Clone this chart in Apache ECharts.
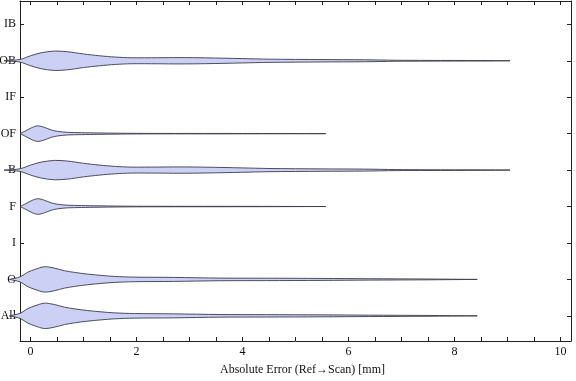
<!DOCTYPE html>
<html>
<head>
<meta charset="utf-8">
<script src="https://cdn.jsdelivr.net/npm/echarts@6/dist/echarts.min.js"></script>
<style>
html,body{margin:0;padding:0;background:#fff;}
#chart{width:576px;height:381px;}
</style>
</head>
<body>
<div id="chart"></div>
<script>
// Categories, bottom to top (position 1..9 on the y axis)
const categories = ['All', 'O', 'I', 'F', 'B', 'OF', 'IF', 'OB', 'IB'];
const categoryPositions = [1, 2, 3, 4, 5, 6, 7, 8, 9];

// X axis ticks and labels
const xTickValues = [0, 0.5, 1, 1.5, 2, 2.5, 3, 3.5, 4, 4.5, 5, 5.5, 6, 6.5, 7, 7.5, 8, 8.5, 9, 9.5, 10];
const xLabelValues = [0, 2, 4, 6, 8, 10];
const xAxisTitle = 'Absolute Error (Ref\u2192Scan) [mm]';

// Violin profiles: x positions (mm) and half-widths (in category units)
const allX = [-0.4, -0.2, -0.05, 0.08, 0.26, 0.45, 0.64, 0.83, 1.08, 1.33, 1.58, 1.96, 2.7, 3.57, 4.45, 5.5, 6.4, 7.5, 8.43];
const allW = [0, 0.069, 0.2, 0.274, 0.348, 0.31, 0.239, 0.192, 0.145, 0.11, 0.082, 0.063, 0.055, 0.036, 0.033, 0.027, 0.019, 0.011, 0];

const oX = [-0.4, -0.2, -0.05, 0.08, 0.26, 0.45, 0.64, 0.83, 1.08, 1.33, 1.58, 1.96, 2.7, 3.57, 4.45, 5.5, 6.4, 7.5, 8.43];
const oW = [0, 0.069, 0.2, 0.274, 0.348, 0.31, 0.239, 0.192, 0.145, 0.11, 0.082, 0.063, 0.055, 0.036, 0.033, 0.027, 0.019, 0.011, 0];

const fX = [-0.2, -0.11, 0.01, 0.13, 0.26, 0.39, 0.51, 0.7, 0.96, 1.27, 2.0, 4.0, 5.57];
const fW = [0, 0.063, 0.156, 0.214, 0.173, 0.101, 0.063, 0.036, 0.027, 0.019, 0.008, 0.005, 0];

const bX = [-0.5, -0.2, 0, 0.2, 0.45, 0.7, 1.0, 1.3, 1.6, 1.9, 2.4, 2.8, 3.3, 4.0, 4.5, 5.5, 6.3, 6.9, 7.5, 8.5, 9.05];
const bW = [0, 0.036, 0.137, 0.219, 0.266, 0.247, 0.186, 0.137, 0.101, 0.082, 0.083, 0.087, 0.08, 0.06, 0.044, 0.033, 0.027, 0.014, 0.01, 0.007, 0];

const ofX = [-0.2, -0.11, 0.01, 0.13, 0.26, 0.39, 0.51, 0.7, 0.96, 1.27, 2.0, 4.0, 5.57];
const ofW = [0, 0.063, 0.156, 0.214, 0.173, 0.101, 0.063, 0.036, 0.027, 0.019, 0.008, 0.005, 0];

const obX = [-0.5, -0.2, 0, 0.2, 0.45, 0.7, 1.0, 1.3, 1.6, 1.9, 2.4, 2.8, 3.3, 4.0, 4.5, 5.5, 6.3, 6.9, 7.5, 8.5, 9.05];
const obW = [0, 0.036, 0.137, 0.219, 0.266, 0.247, 0.186, 0.137, 0.101, 0.082, 0.083, 0.087, 0.08, 0.06, 0.044, 0.033, 0.027, 0.014, 0.01, 0.007, 0];

// Which category each violin belongs to
const violins = [
  { cat: 'All', x: allX, w: allW },
  { cat: 'O', x: oX, w: oW },
  { cat: 'F', x: fX, w: fW },
  { cat: 'B', x: bX, w: bW },
  { cat: 'OF', x: ofX, w: ofW },
  { cat: 'OB', x: obX, w: obW }
];

const FONT = '"Liberation Serif", "DejaVu Serif", serif';
const chart = echarts.init(document.getElementById('chart'), null, { renderer: 'canvas' });

const seriesData = violins.map((v, i) => [0, categoryPositions[categories.indexOf(v.cat)], i]);

const option = {
  animation: false,
  backgroundColor: '#fff',
  grid: { left: 20, right: 5, top: 1, bottom: 40, containLabel: false, outerBoundsMode: 'none' },
  xAxis: [
    {
      type: 'value', min: -0.2, max: 10.2, position: 'bottom',
      axisLine: { show: true, onZero: false, lineStyle: { color: '#222', width: 1 } },
      axisTick: { show: true, inside: true, length: 4, customValues: xTickValues, lineStyle: { color: '#222' } },
      axisLabel: { show: true, customValues: xLabelValues, margin: 5, color: '#111', fontFamily: FONT, fontSize: 12 },
      splitLine: { show: false },
      name: xAxisTitle, nameLocation: 'middle', nameGap: 23,
      nameTextStyle: { fontFamily: FONT, fontSize: 12, color: '#111', padding: [0, 0, 0, 14] }
    },
    {
      type: 'value', min: -0.2, max: 10.2, position: 'top',
      axisLine: { show: true, onZero: false, lineStyle: { color: '#222', width: 1 } },
      axisTick: { show: true, inside: true, length: 4, customValues: xTickValues, lineStyle: { color: '#222' } },
      axisLabel: { show: false },
      splitLine: { show: false }
    }
  ],
  yAxis: [
    {
      type: 'value', min: 0.31, max: 9.64, position: 'left',
      axisLine: { show: true, onZero: false, lineStyle: { color: '#222', width: 1 } },
      axisTick: { show: true, inside: true, length: 4, customValues: categoryPositions, lineStyle: { color: '#222' } },
      axisLabel: {
        show: true, customValues: categoryPositions, margin: 4, color: '#111', fontFamily: FONT, fontSize: 12,
        formatter: v => categories[Math.round(v) - 1]
      },
      splitLine: { show: false }
    },
    {
      type: 'value', min: 0.31, max: 9.64, position: 'right',
      axisLine: { show: true, onZero: false, lineStyle: { color: '#222', width: 1 } },
      axisTick: { show: true, inside: true, length: 4, customValues: categoryPositions, lineStyle: { color: '#222' } },
      axisLabel: { show: false },
      splitLine: { show: false }
    }
  ],
  series: [
    {
      type: 'custom',
      xAxisIndex: 0, yAxisIndex: 0,
      clip: false,
      data: seriesData,
      renderItem: function (params, api) {
        const pos = api.value(1);
        const v = violins[api.value(2)];
        const upper = [], lower = [];
        for (let k = 0; k < v.x.length; k++) {
          upper.push(api.coord([v.x[k], pos + v.w[k]]));
          lower.push(api.coord([v.x[k], pos - v.w[k]]));
        }
        const pts = upper.concat(lower.reverse());
        return {
          type: 'polygon',
          shape: { points: pts, smooth: 0.3 },
          style: { fill: '#ccd0f5', stroke: 'rgba(60,60,75,0.9)', lineWidth: 1 }
        };
      }
    }
  ]
};
chart.setOption(option);
</script>
</body>
</html>
